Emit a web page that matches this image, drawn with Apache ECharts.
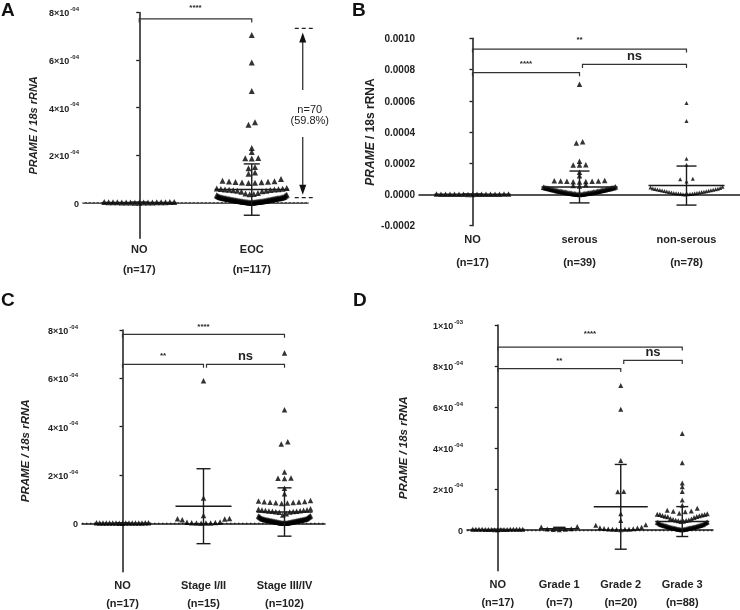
<!DOCTYPE html>
<html><head><meta charset="utf-8">
<script src="https://cdn.jsdelivr.net/npm/echarts@6/dist/echarts.min.js"></script>
<style>html,body{margin:0;padding:0;background:#fff}#c{width:740px;height:610px}</style>
</head><body><div id="c"></div>
<script>
// All expression values are PRAME / 18s rRNA in units of 1e-4
const noValues = [0.02,0.01,0.03,0.00,0.02,0.01,0.02,0.03,0.01,0.02,0.00,0.01,0.02,0.03,0.01,0.02,0.01];

// Panel A
const aCategories = ['NO','EOC'];
const aCounts = ['(n=17)','(n=117)'];
const aEOC = [7.05,5.9,4.7,3.38,3.28,2.3,2.13,1.88,1.87,1.86,1.5,1.45,1.27,1.22,1.0,
  0.92,0.9,0.89,0.88,0.87,0.86,0.85,0.84,0.83,
  0.62,0.6,0.58,0.57,0.56,0.55,0.55,0.54,0.53,0.52,0.5,0.5,0.48,0.46,
  0.41,0.38,0.36,0.35,0.33,0.31,0.3,0.28,0.27,0.26,
  0.00,0.00,0.01,0.01,0.01,0.01,0.02,0.02,0.02,0.02,0.03,0.03,0.03,0.04,0.04,0.04,0.04,0.05,0.05,0.05,
  0.06,0.06,0.06,0.07,0.07,0.07,0.08,0.08,0.08,0.09,0.09,0.10,0.10,0.10,0.11,0.11,0.12,0.12,0.12,0.13,
  0.13,0.14,0.14,0.15,0.15,0.15,0.16,0.16,0.17,0.17,0.18,0.18,0.18,0.19,0.19,0.20,0.20,0.21,0.21,0.22,
  0.22,0.23,0.23,0.24,0.24,0.11,0.06,0.03,0.14];
const aMeans = [0.01, 0.55];
const aSDs = [0.01, 1.08];
const aRange = [0.21, 7.33];
const aRangeText = ['n=70', '(59.8%)'];
const aSig = ['****'];
const aTicks = [0,2,4,6,8];
const aTickLabels = ['0','2×10^-04','4×10^-04','6×10^-04','8×10^-04'];

// Panel B
const bCategories = ['NO','serous','non-serous'];
const bCounts = ['(n=17)','(n=39)','(n=78)'];
const bSerous = [7.05,3.38,3.3,2.13,1.9,1.89,1.88,1.42,1.2,
  0.9,0.88,0.87,0.86,0.85,0.84,0.83,0.82,0.8,
  0.62,0.58,0.55,
  0.00,0.01,0.01,0.02,0.02,0.03,0.03,0.04,0.05,0.05,0.06,0.07,0.07,0.08,0.09,0.09,0.10,0.11,0.12,0.12,
  0.13,0.14,0.15,0.15,0.16,0.17,0.18,0.19,0.20,0.20,0.21,0.22,0.23,0.24,0.25,0.26,0.27,0.28,0.29,0.30,
  0.31,0.32,0.33,0.34,0.35,0.36,0.37,0.38,0.39,0.40,0.41,0.42,0.43,0.44,0.45,0.47,0.49];
const bNonSerous = [5.85,4.7,2.29,1.9,1.0,0.98,0.83,0.5,
  0.00,0.01,0.02,0.03,0.04,0.05,0.06,0.07,0.08,0.09,0.10,0.12,0.13,0.15,0.16,0.18,0.19,0.21,0.22,0.24,
  0.25,0.27,0.28,0.30,0.32,0.33,0.35,0.37,0.39,0.42,0.45];
const bMeans = [0.01, 0.48, 0.57];
const bSDs = [0.01, 1.02, 1.25];
const bSig = ['**','****','ns'];
const bTicks = [-2,0,2,4,6,8,10];
const bTickLabels = ['-0.0002','0.0000','0.0002','0.0004','0.0006','0.0008','0.0010'];

// Panel C
const cCategories = ['NO','Stage I/II','Stage III/IV'];
const cCounts = ['(n=17)','(n=15)','(n=102)'];
const cStage12 = [5.9,1.05,0.33,0.2,0.19,0.18,0.15,0.06,0.05,0.04,0.03,0.02,0.02,0.01,0.0];
const cStage34 = [7.05,4.7,3.38,3.28,2.13,1.88,1.87,1.86,1.45,1.22,
  0.95,0.92,0.9,0.89,0.88,0.87,0.86,0.85,0.84,0.82,
  0.6,0.58,0.56,0.55,0.54,0.53,0.52,0.51,0.5,0.5,0.49,0.48,0.47,0.46,
  0.4,0.35,0.32,0.3,0.28,0.27,0.26,0.25,0.24,0.22,0.21,0.2,
  0.00,0.00,0.01,0.01,0.01,0.02,0.02,0.02,0.03,0.03,0.03,0.04,0.04,0.04,0.05,0.05,0.05,0.06,0.06,0.06,
  0.07,0.07,0.07,0.08,0.08,0.08,0.09,0.09,0.09,0.10,0.10,0.10,0.11,0.11,0.11,0.12,0.12,0.12,0.13,0.13,
  0.13,0.14,0.14,0.14,0.15,0.15,0.15,0.16,0.16,0.16,0.17,0.17,0.18,0.18,0.19,0.19];
const cMeans = [0.01, 0.71, 0.47];
const cSDs = [0.01, 1.55, 1.0];
const cSig = ['****','**','ns'];
const cTicks = [0,2,4,6,8];
const cTickLabels = ['0','2×10^-04','4×10^-04','6×10^-04','8×10^-04'];

// Panel D
const dCategories = ['NO','Grade 1','Grade 2','Grade 3'];
const dCounts = ['(n=17)','(n=7)','(n=20)','(n=88)'];
const dGrade1 = [0.16,0.13,0.05,0.04,0.02,0.01,0.0];
const dGrade2 = [7.05,5.88,3.38,1.87,1.86,0.78,0.45,0.25,0.22,0.12,0.1,0.08,0.06,0.05,0.04,0.03,0.02,0.02,0.01,0.0];
const dGrade3 = [4.7,3.27,2.28,2.1,1.87,1.45,1.2,1.05,0.95,0.92,0.9,0.88,
  0.8,0.78,0.76,0.75,0.74,0.72,0.7,0.68,0.66,0.65,0.63,0.6,
  0.55,0.52,0.5,0.48,0.46,0.45,0.44,0.42,0.4,0.38,0.37,0.35,0.34,0.33,0.32,0.31,
  0.00,0.00,0.01,0.01,0.02,0.02,0.03,0.03,0.04,0.04,0.05,0.05,0.06,0.06,0.07,0.07,0.08,0.08,0.09,0.09,
  0.10,0.10,0.11,0.11,0.12,0.12,0.13,0.14,0.14,0.15,0.16,0.16,0.17,0.18,0.18,0.19,0.20,0.20,0.21,0.22,
  0.22,0.23,0.24,0.25,0.25,0.26,0.27,0.28];
const dMeans = [0.01, 0.05, 1.12, 0.4];
const dSDs = [0.01, 0.07, 2.07, 0.73];
const dSig = ['****','**','ns'];
const dTicks = [0,2,4,6,8,10];
const dTickLabels = ['0','2×10^-04','4×10^-04','6×10^-04','8×10^-04','1×10^-03'];

const FONT = "'Liberation Sans', Arial, sans-serif";
const INK = '#1a1a1a';

// layout / style per panel
const panels = [
  {letter:'A', lx:1, ly:1, grid:{left:83, top:12.5, width:225, height:225.8}, yMin:-1.5, yMax:8,
   ticks:aTicks, tickLabels:aTickLabels, cats:aCategories, counts:aCounts, groups:[noValues, aEOC],
   means:aMeans, sds:aSDs, sig:aSig, brackets:[[0,1,7.73,0,11]],
   spacing:6.5, maxHalf:35, sym:[6,6], cap:8, nameGap:44, nameSize:11, nameItalicAll:true,
   zero:{color:'#b0b0b0', width:1}, labelMargin:5, nLH:26, tickFont:9},
  {letter:'B', lx:352, ly:1, grid:{left:419, top:38.3, width:321, height:187.4}, yMin:-2, yMax:10,
   ticks:bTicks, tickLabels:bTickLabels, cats:bCategories, counts:bCounts, groups:[noValues, bSerous, bNonSerous],
   means:bMeans, sds:bSDs, sig:bSig, brackets:[[0,2,9.31,0,9],[0,1,7.8,0,9],[1,2,8.33,3,8]],
   spacing:6.3, maxHalf:36, sym:[5.5,5.5,4], cap:10, nameGap:37, nameSize:12, nameItalicAll:false,
   zero:null, labelMargin:7, nLH:32, tickFont:10},
  {letter:'C', lx:1, ly:291, grid:{left:82, top:330, width:243, height:241.7}, yMin:-2, yMax:8,
   ticks:cTicks, tickLabels:cTickLabels, cats:cCategories, counts:cCounts, groups:[noValues, cStage12, cStage34],
   means:cMeans, sds:cSDs, sig:cSig, brackets:[[0,2,7.82,0,8],[0,1,6.58,0,9],[1,2,6.58,3,8]],
   spacing:6.5, maxHalf:26, sym:[5.5,5.5,5.5], cap:7, nameGap:50, nameSize:11.5, nameItalicAll:true,
   zero:{color:'#222', width:1.3}, labelMargin:7, nLH:22, tickFont:9},
  {letter:'D', lx:353, ly:291, grid:{left:467, top:325, width:246, height:245.7}, yMin:-2, yMax:10,
   ticks:dTicks, tickLabels:dTickLabels, cats:dCategories, counts:dCounts, groups:[noValues, dGrade1, dGrade2, dGrade3],
   means:dMeans, sds:dSDs, sig:dSig, brackets:[[0,3,8.92,0,13],[0,2,7.87,0,8],[2,3,8.27,3,8]],
   spacing:6, maxHalf:25, sym:[5,5,5,5], cap:6, nameGap:57, nameSize:11.5, nameItalicAll:true,
   zero:{color:'#222', width:1.3}, labelMargin:7, nLH:22, tickFont:9}
];

// column scatter layout (GraphPad-like): values close in height are set side by side
function swarm(values, pxPerUnit, spacing, maxHalf, gapPx, spanPx) {
  const s = values.slice().sort((a, b) => a - b);
  const groups = [];
  let cur = [s[0]];
  for (let k = 1; k < s.length; k++) {
    const v = s[k];
    if ((v - cur[cur.length - 1]) * pxPerUnit > gapPx || (v - cur[0]) * pxPerUnit > spanPx) {
      groups.push(cur); cur = [v];
    } else cur.push(v);
  }
  groups.push(cur);
  const pts = []; let half = 0;
  groups.forEach(g => {
    const n = g.length;
    let sp = spacing;
    if (n > 1 && (n - 1) * sp / 2 > maxHalf) sp = 2 * maxHalf / (n - 1);
    const pos = [];
    for (let k = 0; k < n; k++) pos.push((k - (n - 1) / 2) * sp);
    pos.sort((a, b) => Math.abs(a) - Math.abs(b) || a - b);
    g.forEach((v, k) => { pts.push([pos[k], v]); half = Math.max(half, Math.abs(pos[k])); });
  });
  return {pts, half};
}

function meanSdItem(params, api) {
  const c = api.value(0), m = api.value(1), sd = api.value(2), hw = api.value(3), cap = api.value(4);
  const pm = api.coord([c, m]), pt = api.coord([c, m + sd]), pb = api.coord([c, m - sd]);
  const st = {stroke: INK, lineWidth: 1.4};
  return {type: 'group', children: [
    {type: 'line', shape: {x1: pm[0] - hw, y1: pm[1], x2: pm[0] + hw, y2: pm[1]}, style: st},
    {type: 'line', shape: {x1: pt[0], y1: pt[1], x2: pb[0], y2: pb[1]}, style: st},
    {type: 'line', shape: {x1: pt[0] - cap, y1: pt[1], x2: pt[0] + cap, y2: pt[1]}, style: st},
    {type: 'line', shape: {x1: pb[0] - cap, y1: pb[1], x2: pb[0] + cap, y2: pb[1]}, style: st}
  ]};
}

function bracketRenderer(labels) {
  return function (params, api) {
    const i = params.dataIndex;
    const p1 = api.coord([api.value(0), api.value(2)]);
    const p2 = api.coord([api.value(1), api.value(2)]);
    const xa = p1[0] + api.value(3), xb = p2[0], y = p1[1];
    const lab = labels[i];
    const isNs = lab === 'ns';
    return {type: 'group', children: [
      {type: 'polyline', shape: {points: [[xa, y + 3.5], [xa, y], [xb, y], [xb, y + 3.5]]},
       style: {stroke: '#333', lineWidth: 1.2, fill: null}},
      {type: 'text', x: (xa + xb) / 2, y: y - api.value(4),
       style: {text: lab, fill: '#222', font: isNs ? 'bold 13px ' + FONT : 'bold 8px ' + FONT,
               align: 'center', verticalAlign: 'middle'}}
    ]};
  };
}

const option = {animation: false, backgroundColor: '#fff', grid: [], xAxis: [], yAxis: [], series: [], graphic: []};

panels.forEach((p, gi) => {
  const n = p.cats.length;
  option.grid.push(Object.assign({containLabel: false}, p.grid));
  option.xAxis.push({
    type: 'category', gridIndex: gi, data: p.cats, boundaryGap: true, position: 'bottom',
    axisLine: {lineStyle: {color: INK, width: 1.5}},
    axisTick: {alignWithLabel: true, length: 4, lineStyle: {color: INK, width: 1.3}},
    axisLabel: {interval: 0, margin: p.labelMargin,
      formatter: (v, i) => '{a|' + v + '}\n{b|' + p.counts[i] + '}',
      rich: {a: {fontFamily: FONT, fontWeight: 'bold', fontSize: 11, color: '#222', lineHeight: 14},
             b: {fontFamily: FONT, fontWeight: 'bold', fontSize: 11, color: '#222', lineHeight: p.nLH}}},
    splitLine: {show: false}
  });
  option.xAxis.push({type: 'value', gridIndex: gi, min: -0.5, max: n - 0.5, show: false});
  const nameRich = {
    i: {fontFamily: FONT, fontWeight: 'bold', fontStyle: 'italic', fontSize: p.nameSize, color: '#222'},
    n: {fontFamily: FONT, fontWeight: 'bold', fontStyle: p.nameItalicAll ? 'italic' : 'normal', fontSize: p.nameSize, color: '#222'}
  };
  option.yAxis.push({
    type: 'value', gridIndex: gi, min: p.yMin, max: p.yMax,
    axisLine: {show: true, lineStyle: {color: INK, width: 1.5}},
    axisTick: {show: true, length: 3, customValues: p.ticks, lineStyle: {color: INK, width: 1.3}},
    axisLabel: {customValues: p.ticks, margin: 4,
      formatter: v => {
        let best = 0;
        p.ticks.forEach((t, k) => { if (Math.abs(t - v) < Math.abs(p.ticks[best] - v)) best = k; });
        const parts = p.tickLabels[best].split('^');
        return parts.length > 1 ? '{m|' + parts[0] + '}{s|' + parts[1] + '}' : '{m|' + parts[0] + '}';
      },
      rich: {
        m: {fontFamily: FONT, fontWeight: 'bold', fontSize: p.tickFont, color: '#222', lineHeight: 12, verticalAlign: 'bottom'},
        s: {fontFamily: FONT, fontWeight: 'bold', fontSize: 6, color: '#222', lineHeight: 12, verticalAlign: 'top', padding: [0, 0, 0, 1]}
      }},
    splitLine: {show: false},
    name: '{i|PRAME}{n| / 18s rRNA}', nameLocation: 'middle', nameGap: p.nameGap, nameRotate: 90,
    nameTextStyle: {rich: nameRich}
  });

  const pxPerUnit = p.grid.height / (p.yMax - p.yMin);
  const pxPerCat = p.grid.width / n;
  const halfs = [];
  p.groups.forEach((vals, ci) => {
    const sw = swarm(vals, pxPerUnit, p.spacing, p.maxHalf, 2.5, 8);
    halfs.push(sw.half);
    const s = {
      type: 'scatter', xAxisIndex: 2 * gi + 1, yAxisIndex: gi, symbol: 'triangle', symbolSize: p.sym[ci],
      itemStyle: {color: '#000'}, silent: true, z: 3,
      data: sw.pts.map(([off, v]) => [ci + off / pxPerCat, v])
    };
    if (ci === 0 && p.zero) {
      s.markLine = {silent: true, symbol: ['none', 'none'], label: {show: false},
        lineStyle: {color: p.zero.color, width: p.zero.width, type: [1.5, 2.5]},
        emphasis: {disabled: true}, data: [{yAxis: 0}], z: 1};
    }
    option.series.push(s);
  });
  option.series.push({
    type: 'custom', xAxisIndex: 2 * gi + 1, yAxisIndex: gi, silent: true, z: 4,
    renderItem: meanSdItem,
    data: p.means.map((m, ci) => [ci, m, p.sds[ci], halfs[ci] + 2, p.cap])
  });
  option.series.push({
    type: 'custom', xAxisIndex: 2 * gi + 1, yAxisIndex: gi, silent: true, z: 4,
    renderItem: bracketRenderer(p.sig), data: p.brackets
  });
  option.graphic.push({type: 'text', left: p.lx, top: p.ly,
    style: {text: p.letter, font: 'bold 19px ' + FONT, fill: '#111'}});
});

// Panel A range annotation (n=70, 59.8%)
option.series.push({
  type: 'custom', xAxisIndex: 1, yAxisIndex: 0, silent: true, z: 4, clip: false,
  data: [[1, aRange[0], aRange[1]]],
  renderItem: (params, api) => {
    const top = api.coord([api.value(0), api.value(2)]);
    const bot = api.coord([api.value(0), api.value(1)]);
    const cx = top[0] + 51, x0 = top[0] + 43, x1 = top[0] + 63;
    const ym = (top[1] + bot[1]) / 2;
    const st = {stroke: '#222', lineWidth: 1.2};
    const tf = '11px ' + FONT;
    return {type: 'group', children: [
      {type: 'line', shape: {x1: x0, y1: top[1], x2: x1, y2: top[1]}, style: Object.assign({lineDash: [4, 3]}, st)},
      {type: 'line', shape: {x1: x0, y1: bot[1], x2: x1, y2: bot[1]}, style: Object.assign({lineDash: [4, 3]}, st)},
      {type: 'line', shape: {x1: cx, y1: top[1] + 12, x2: cx, y2: ym - 23}, style: st},
      {type: 'line', shape: {x1: cx, y1: ym + 24, x2: cx, y2: bot[1] - 12}, style: st},
      {type: 'polygon', shape: {points: [[cx, top[1] + 4], [cx - 3.5, top[1] + 14], [cx + 3.5, top[1] + 14]]}, style: {fill: '#111'}},
      {type: 'polygon', shape: {points: [[cx, bot[1] - 3], [cx - 3.5, bot[1] - 13], [cx + 3.5, bot[1] - 13]]}, style: {fill: '#111'}},
      {type: 'text', x: cx + 7, y: ym - 3.5, style: {text: aRangeText[0], font: tf, fill: '#222', align: 'center', verticalAlign: 'middle'}},
      {type: 'text', x: cx + 7, y: ym + 8, style: {text: aRangeText[1], font: tf, fill: '#222', align: 'center', verticalAlign: 'middle'}}
    ]};
  }
});

const chart = echarts.init(document.getElementById('c'), null, {renderer: 'canvas'});
chart.setOption(option);
</script>
</body></html>
